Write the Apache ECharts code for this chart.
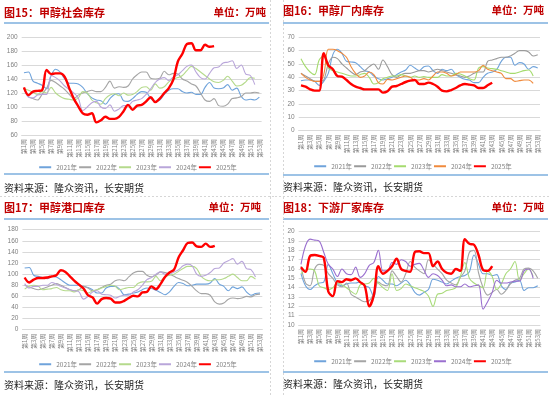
<!DOCTYPE html>
<html>
<head>
<meta charset="utf-8">
<script src="https://cdn.jsdelivr.net/npm/echarts@6/dist/echarts.min.js"></script>
<style>
body{margin:0;background:#fff;}
.panel{position:absolute;width:275px;}
</style>
</head>
<body>
<div id="chart15" class="panel" style="left:0;top:0;height:197px"></div>
<div id="chart16" class="panel" style="left:275px;top:0;height:197px"></div>
<div id="chart17" class="panel" style="left:0;top:197px;height:200px"></div>
<div id="chart18" class="panel" style="left:275px;top:197px;height:200px"></div>
<script>
var years = ['2021年','2022年','2023年','2024年','2025年'];
var weeks = [];
for (var w = 1; w <= 53; w++) { weeks.push('第' + w + '周'); }

// 图15 甲醇社会库存
var soc2021 = [149,150,137,134,131,126,145,154,150,140,134,134,133,128,119,113,110,109,104,112,118,119,109,108,112,118,122,121,112,108,110,118,124,126,126,122,120,121,118,118,128,135,127,126,127,132,124,127,115,110,111,110,114];
var soc2022 = [126,115,112,110,118,127,138,135,130,125,118,112,117,120,122,124,122,122,128,137,127,129,128,130,140,146,150,150,141,140,141,151,146,148,147,140,137,133,130,120,110,108,112,102,101,104,112,113,115,120,120,121,120];
var soc2023 = [126,124,121,118,122,120,128,120,115,112,111,110,113,122,120,110,106,104,112,117,119,116,120,117,118,122,128,129,124,133,127,129,136,140,142,145,152,158,155,150,145,140,136,135,138,144,137,130,131,136,142,141];
var soc2024 = [127,114,113,117,118,118,145,142,137,130,125,120,113,95,100,106,108,100,98,103,94,97,102,102,108,110,112,118,126,135,140,142,138,143,146,152,158,160,150,142,140,148,156,157,163,164,166,155,160,147,145,132];
var soc2025 = [128,117,122,123,124,153,147,148,148,143,127,112,101,91,89,91,78,81,86,83,83,86,94,103,96,102,103,108,114,107,112,120,127,139,165,176,190,191,181,181,189,186,187];

// 图16 甲醇厂内库存
var fac2021 = [37.5,38,38,37,34,37,43,57,61,58,52,51.5,51,48,45,44,41,39,38,39,40,42,44,45.5,49,47,45,48,48.5,45,43,46,45,46,42,40,38.5,38,36,36,40,43,44,46,52,55,55,49,51,50,46,48,47];
var fac2022 = [43,41,39,37,37,38,50,55,54,50,47,44,42,44,45,48,50,46,53,48,42,40,42,43,43,44,45,45,44,45,46,45,44,43,42,41,40,41,43,44,44,52,53,54,55,55,56,58,60,60,59,56,57];
var fac2023 = [54,48,44,42,53,56,47,45,44,43,42,41,41,42,43,40,35,36,39,40,41,41,42,41,40,41,40,40.5,40,40,40,42,41,41,43,42.5,41,39,38,47,48,47,46.5,46,45,44,43,43,44,45,45.5,41];
var fac2024 = [43,40,38,37,37,42,61,61,60,58,55,48,43,40,41,44,42,36,35,38.5,38,39,40,41,40,38,38,39,38,41,44,44,43,41,42,44,44,44,44,45,49,46,45,44,43,39,39,37,37.5,38,38,35.5];
var fac2025 = [34,33,31,30,30,58,49,46,41,40.5,38,35,33,32,31,31,31,31,28.5,29.5,33,33.5,35,36.5,37.5,38,35,35,36,35,33,30,29.5,30.5,32,34,35,34.5,34,32,32,34,36];

// 图17 甲醇港口库存
var port2021 = [111,112,98,96,94,92,96,95,90,84,80,80,80,78,76,72,66,66,75,78,78,73,63,64,66,68,72,75,74,71,67,63,68,78,85,83,79,80,82,82,82,84,92,82,78,70,77,74,77,68,62,65,66];
var port2022 = [80,77,74,72,74,77,80,83,80,76,72,70,72,78,75,70,72,76,80,82,88,90,88,95,102,105,105,98,95,98,104,103,100,96,92,89,85,78,70,65,65,62,50,46,48,55,57,56,57,60,59,63,64];
var port2023 = [73,78,80,78,72,73,74,76,72,70,70,68,72,70,66,70,72,75,78,80,78,72,74,76,76,83,86,86,87,96,88,95,98,100,105,110,114,114,110,96,90,88,90,90,92,96,100,94,88,88,96,91];
var port2024 = [83,75,78,78,80,80,85,82,78,75,72,70,68,55,60,68,70,64,63,62,57,60,62,62,68,72,80,90,94,100,104,100,100,104,108,115,118,115,100,96,98,103,110,111,120,124,128,118,123,110,108,95];
var port2025 = [94,85,90,93,93,94,96,98,107,104,96,88,81,74,62,58,47,55,57,56,49,49,52,57,61,60,67,68,78,73,82,95,103,108,130,143,156,157,150,149,155,149,151];

// 图18 下游厂家库存
var down2021 = [15.5,14.2,13.8,14.2,14.5,14.6,16.5,15.5,14.5,14.2,14.4,14.5,14.5,14.6,14.2,14,13,15.2,14.8,14.4,14.4,14.2,14.5,14.8,14.3,13.5,13.2,13.5,13.8,14.9,14.8,14.6,14.4,14.7,15,15.2,15.3,15.7,17.5,16.5,15.5,15.5,15.3,15.4,14.2,13.8,14.5,14.6,14.8,13.7,14,14,14.2];
var down2022 = [16.3,14.5,14.2,16,16.5,16.4,15.5,15,14.3,14.1,14.5,13.3,13,12.7,12.5,12.6,13.4,14.6,14.3,14.2,15.8,15.2,14.6,15.5,16.8,16.2,15.8,15.5,17,16.5,16,15.5,14.8,14.5,14.3,15.1,15.8,17.8,18,15.6,14,13.2,13.5,13.8,13.3,13.7,14.4,14.8,15,16,16.1,15.8,15];
var down2023 = [15.5,15.9,16,15.8,14.2,14,13.8,14,14.5,14.3,14,13.6,13.3,14.3,14.4,14.5,15,14.5,14,13.7,15.5,13.7,13.9,14.4,14.2,14,13.8,13.6,13.1,12,13.3,13.4,13.7,13.8,14,15.2,16.7,15,14.5,14.2,14,15.8,15.2,13.8,14.4,15.5,16,16.8,14.8,15.5,16,15.2];
var down2024 = [16.5,18.5,19.2,19.1,19,17.8,16.5,16,15.2,16,15.5,15.4,16.2,15.1,15.5,16.4,16.7,18,15.8,15.8,16.7,16.5,17,16.8,16.3,16.5,16.6,15.9,15.1,15.5,15.3,14.8,14.2,14.3,14.1,14.1,14.4,14.1,14.2,14.3,11.7,12.5,13.5,14.8,14.5,14.5,14.6,14.7,14.7,15.8,16,15];
var down2025 = [16.2,15.7,17.4,17.5,17.4,17.2,13.6,13.1,14.7,14.6,14.9,14.8,15,14.6,14.2,12,13.2,16.3,15.5,15.8,16.3,17.1,16,15.8,15.7,17.8,17.9,17.7,17.7,16.3,16.8,16,15.6,15.5,16,15.8,19.2,18.7,18.6,17.5,15.9,15.8,16.3];

var cnFont = '"Noto Sans CJK SC", sans-serif';

function makeChart(domid, cfg) {
	var myChart = echarts.init(document.getElementById(domid));
	var series = [];
	for (var i = 0; i < 5; i++) {
		series.push({
			name: years[i],
			type: 'line',
			data: cfg.data[i],
			smooth: 0.35,
			symbol: 'none',
			lineStyle: {color: cfg.colors[i], width: i == 4 ? 2.4 : 1.1},
			itemStyle: {color: cfg.colors[i]},
			z: i == 4 ? 5 : 2
		});
	}
	var g = cfg.g;
	var graphic = [
		{type: 'text', left: g.x0, top: g.titleY - 7, style: {text: cfg.title, fill: '#C00000', font: 'bold 11px ' + cnFont}},
		{type: 'text', right: myChart.getWidth() - g.unitR, top: g.titleY - 7, style: {text: '单位：万吨', fill: '#C00000', font: 'bold 10.5px ' + cnFont}},
		{type: 'line', shape: {x1: g.x0, y1: g.topLine, x2: g.x1, y2: g.topLine}, style: {stroke: '#9DC3E6', lineWidth: 2}},
		{type: 'line', shape: {x1: g.x0, y1: g.botLine, x2: g.x1, y2: g.botLine}, style: {stroke: '#9DC3E6', lineWidth: 2}},
		{type: 'text', left: g.x0, top: g.srcY - 6, style: {text: '资料来源：隆众资讯，长安期货', fill: '#222', font: '10px ' + cnFont}}
	];
	// 表格虚线
	if (g.vline != null) {
		graphic.push({type: 'line', shape: {x1: g.vline, y1: 0, x2: g.vline, y2: 200}, style: {stroke: '#D6D6D6', lineWidth: 1, lineDash: [2, 2]}});
	}
	if (g.hline != null) {
		graphic.push({type: 'line', shape: {x1: 0, y1: g.hline, x2: 275, y2: g.hline}, style: {stroke: '#D6D6D6', lineWidth: 1, lineDash: [2, 2]}});
	}
	var option = {
		animation: false,
		grid: cfg.grid,
		legend: {
			top: cfg.legendY - 3,
			left: 'center',
			padding: 0,
			itemWidth: 12,
			itemHeight: 6,
			itemGap: 1,
			itemStyle: {opacity: 0},  //不显示圆点
			textStyle: {color: '#7F7F7F', fontSize: 6.5, fontFamily: cnFont},
			data: years
		},
		xAxis: {
			type: 'category',
			data: weeks,
			boundaryGap: true,
			axisLine: {lineStyle: {color: '#D9D9D9', width: 1}},
			axisTick: {show: false},
			axisLabel: {interval: 1, rotate: 90, fontSize: 6, color: '#7F7F7F', margin: 4, fontFamily: cnFont}
		},
		yAxis: {
			type: 'value',
			min: cfg.yMin,
			max: cfg.yMax,
			interval: cfg.yStep,
			axisLine: {show: false},
			axisTick: {show: false},
			axisLabel: {fontSize: 6.5, color: '#7F7F7F', margin: 4},
			splitLine: {lineStyle: {color: '#D9D9D9', width: 1}}
		},
		graphic: graphic,
		series: series
	};
	myChart.setOption(option);
	return myChart;
}

makeChart('chart15', {
	title: '图15：甲醇社会库存',
	data: [soc2021, soc2022, soc2023, soc2024, soc2025],
	colors: ['#6FA3DB', '#A5A5A5', '#B5DA8C', '#B9A6DA', '#FF0000'],
	grid: {left: 21.7, right: 13.4, top: 37, bottom: 62},
	yMin: 60, yMax: 200, yStep: 20,
	legendY: 167,
	g: {x0: 4, x1: 269, titleY: 14, unitR: 266, topLine: 23, botLine: 174, srcY: 189, vline: 270.5, hline: 196.5}
});

makeChart('chart16', {
	title: '图16：甲醇厂内库存',
	data: [fac2021, fac2022, fac2023, fac2024, fac2025],
	colors: ['#6FA3DB', '#9A9A9A', '#A5DB6E', '#F08A3C', '#FF0000'],
	grid: {left: 23.7, right: 10, top: 37.3, bottom: 66.3},
	yMin: 0, yMax: 70, yStep: 10,
	legendY: 166,
	g: {x0: 8, x1: 273, titleY: 12, unitR: 269, topLine: 23, botLine: 175, srcY: 188, vline: 8.5, hline: 196.5}
});

makeChart('chart17', {
	title: '图17：甲醇港口库存',
	data: [port2021, port2022, port2023, port2024, port2025],
	colors: ['#6FA3DB', '#A5A5A5', '#B5DA8C', '#B9A6DA', '#FF0000'],
	grid: {left: 22.4, right: 12.7, top: 32.7, bottom: 67.3},
	yMin: 0, yMax: 180, yStep: 20,
	legendY: 167,
	g: {x0: 4, x1: 269, titleY: 12, unitR: 261, topLine: 22, botLine: 175, srcY: 189, vline: 270.5}
});

makeChart('chart18', {
	title: '图18：下游厂家库存',
	data: [down2021, down2022, down2023, down2024, down2025],
	colors: ['#6FA3DB', '#A5A5A5', '#A9DB7A', '#9A6FCF', '#FF0000'],
	grid: {left: 23.7, right: 10, top: 34.7, bottom: 72},
	yMin: 10, yMax: 20, yStep: 1,
	legendY: 164,
	g: {x0: 8, x1: 273, titleY: 12, unitR: 269, topLine: 22, botLine: 175, srcY: 188, vline: 8.5}
});
</script>
</body>
</html>
